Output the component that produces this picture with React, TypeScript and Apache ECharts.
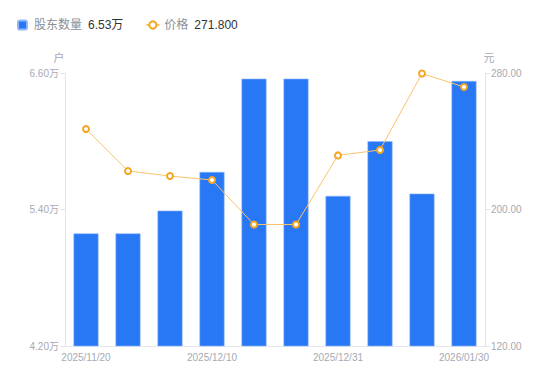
import React, { useEffect, useRef } from "react";
import * as echarts from "echarts";

const categories = [
  "2025/11/20", "2025/11/28", "2025/11/30", "2025/12/10", "2025/12/19",
  "2025/12/20", "2025/12/31", "2026/01/09", "2026/01/20", "2026/01/30",
];
const holders = [5.19, 5.19, 5.39, 5.73, 6.55, 6.55, 5.52, 6.0, 5.54, 6.53]; // 万户
const prices = [247.2, 222.6, 219.6, 217.3, 191.2, 191.2, 231.7, 234.9, 279.7, 271.8];
const leftTicks = [4.2, 5.4, 6.6];
const rightTicks = [120, 200, 280];

export default function App() {
  const ref = useRef<HTMLDivElement>(null);
  useEffect(() => {
    document.body.style.margin = "0";
    if (!ref.current) return;
    const chart = echarts.init(ref.current, undefined, { renderer: "svg" });
    const lastH = holders[holders.length - 1];
    const lastP = prices[prices.length - 1];
    const font = "'Liberation Sans', 'Noto Sans CJK SC', sans-serif";
    chart.setOption({
      animation: false,
      textStyle: { fontFamily: font },
      legend: {
        left: 12,
        top: 14,
        itemWidth: 13,
        itemHeight: 9,
        itemGap: 22,
        data: [
          {
            name: "股东数量",
            icon: "path://M2,0h6a2,2 0 0 1 2,2v6a2,2 0 0 1 -2,2h-6a2,2 0 0 1 -2,-2v-6a2,2 0 0 1 2,-2z",
            itemStyle: { color: "#2878f5" },
          },
          { name: "价格" },
        ],
        formatter: (name: string) =>
          name === "股东数量"
            ? `{n|${name}}{v|${lastH.toFixed(2)}万}`
            : `{n|${name}}{v|${lastP.toFixed(3)}}`,
        textStyle: {
          rich: {
            n: { color: "#8a8f99", fontSize: 12, padding: [0, 6, 0, 0], fontFamily: font },
            v: { color: "#333", fontSize: 12, fontFamily: font },
          },
        },
      },
      grid: { left: 65, right: 65, top: 73, bottom: 35 },
      xAxis: {
        type: "category",
        data: categories,
        axisLine: { lineStyle: { color: "#e3e5ea" } },
        axisTick: { show: false },
        axisLabel: {
          interval: 2,
          color: "#a6a9b3",
          fontSize: 10,
          margin: 6,
        },
      },
      yAxis: [
        {
          type: "value",
          name: "户",
          nameTextStyle: { color: "#a6a9b3", fontSize: 11, padding: [0, 0, 0, -12] },
          nameGap: 10,
          min: 4.2,
          max: 6.6,
          splitLine: { show: false },
          axisLine: { show: true, lineStyle: { color: "#e3e5ea" } },
          axisTick: { show: true, customValues: leftTicks, length: 5, lineStyle: { color: "#e3e5ea" } },
          axisLabel: {
            customValues: leftTicks,
            color: "#a6a9b3",
            fontSize: 10,
            margin: 6,
            formatter: (v: number) => `${v.toFixed(2)}万`,
          },
        },
        {
          type: "value",
          name: "元",
          nameTextStyle: { color: "#a6a9b3", fontSize: 11, padding: [0, 0, 0, 8] },
          nameGap: 10,
          min: 120,
          max: 280,
          splitLine: { show: false },
          axisLine: { show: true, lineStyle: { color: "#e3e5ea" } },
          axisTick: { show: true, customValues: rightTicks, length: 5, lineStyle: { color: "#e3e5ea" } },
          axisLabel: {
            customValues: rightTicks,
            color: "#a6a9b3",
            fontSize: 10,
            margin: 6,
            formatter: (v: number) => v.toFixed(2),
          },
        },
      ],
      series: [
        {
          name: "股东数量",
          type: "bar",
          data: holders,
          barWidth: 25,
          itemStyle: { color: "#2878f5", borderColor: "#8db7fa", borderWidth: 0.6 },
        },
        {
          name: "价格",
          type: "line",
          yAxisIndex: 1,
          data: prices,
          symbol: "emptyCircle",
          symbolSize: 6,
          lineStyle: { color: "#f9c46a", width: 1 },
          itemStyle: { color: "#f5a623", borderWidth: 2 },
        },
      ],
    });
    return () => chart.dispose();
  }, []);
  return <div ref={ref} style={{ width: 550, height: 381 }} />;
}
